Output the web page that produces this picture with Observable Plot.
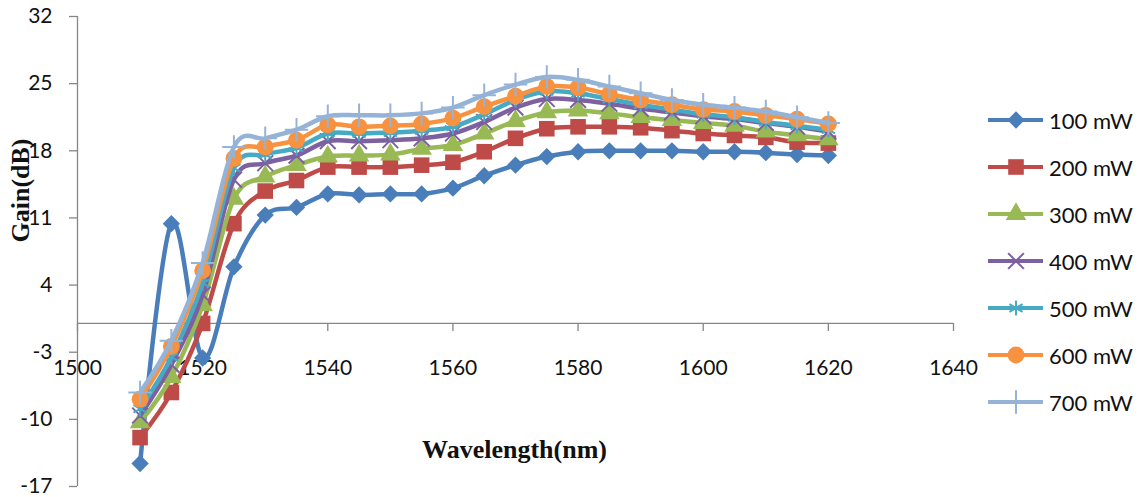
<!DOCTYPE html>
<html>
<head>
<meta charset="utf-8">
<script src="https://cdn.jsdelivr.net/npm/d3@7"></script>
<script src="https://cdn.jsdelivr.net/npm/@observablehq/plot@0.6"></script>
<style>
  body { margin: 0; background: #fff; }
  #wrap { position: relative; width: 1145px; height: 497px; overflow: hidden; }
  #legend { position: absolute; left: 0; top: 0; font-family: Lato, "Open Sans", sans-serif; font-size: 22px; color: #111; }
  .item { position: absolute; display: flex; align-items: center; white-space: nowrap; }
  .item span { margin-left: 5px; }
</style>
</head>
<body>
<div id="wrap"><div id="chart"></div><div id="legend"></div></div>
<script>
// ---- data ----
const wavelengths = [1510,1515,1520,1525,1530,1535,1540,1545,1550,1555,1560,1565,1570,1575,1580,1585,1590,1595,1600,1605,1610,1615,1620];
const seriesNames = ["100 mW","200 mW","300 mW","400 mW","500 mW","600 mW","700 mW"];
const gain100 = [-14.6,10.4,-3.6,5.9,11.3,12.1,13.5,13.4,13.5,13.5,14.1,15.4,16.5,17.4,17.9,18.0,18.0,18.0,17.9,17.9,17.8,17.6,17.5];
const gain200 = [-11.9,-7.2,0.0,10.4,13.8,14.9,16.3,16.3,16.3,16.5,16.8,17.9,19.3,20.3,20.5,20.5,20.4,20.1,19.8,19.6,19.4,18.9,18.8];
const gain300 = [-10.3,-5.6,1.9,13.0,15.3,16.5,17.4,17.5,17.6,18.2,18.6,19.8,21.1,22.0,22.2,21.9,21.5,21.2,20.9,20.6,20.0,19.6,19.2];
const gain400 = [-9.6,-4.3,3.0,15.0,16.7,17.5,19.0,19.0,19.1,19.3,19.8,21.0,22.5,23.4,23.3,22.9,22.4,22.0,21.6,21.3,20.9,20.5,20.0];
const gain500 = [-8.9,-3.5,4.2,16.2,17.6,18.3,19.8,19.8,19.9,20.1,20.5,21.8,23.3,24.2,24.0,23.4,22.8,22.3,21.8,21.5,21.0,20.6,20.2];
const gain600 = [-7.9,-2.4,5.5,17.2,18.4,19.1,20.7,20.5,20.6,20.8,21.4,22.6,23.7,24.7,24.6,23.9,23.3,22.8,22.3,22.1,21.7,21.3,20.8];
const gain700 = [-7.2,-1.8,6.3,18.4,19.3,20.2,21.6,21.7,21.7,21.9,22.5,23.8,24.9,25.7,25.4,24.7,24.0,23.3,22.8,22.5,22.1,21.5,20.9];
const xTicks = [1500,1520,1540,1560,1580,1600,1620,1640];
const yTicks = [-17,-10,-3,4,11,18,25,32];
const colors = ["#4A7EBB","#BE4B48","#98B954","#7D60A0","#46AAC5","#F69240","#95B3D7"];
const symbols = ["diamond2","square","triangle","times","asterisk","circle","plus"];
const symbolFilled = [true,true,true,false,false,true,false];
const symbolR = [7.8,8.8,7.6,7.2,7.2,8.4,7.6];
const xTitle = "Wavelength(nm)";
const yTitle = "Gain(dB)";

const allGains = [gain100,gain200,gain300,gain400,gain500,gain600,gain700];
const axisGray = "#868686";

const marks = [
  Plot.ruleY([0], {stroke: axisGray, strokeWidth: 1.3}),
  Plot.ruleX([1500], {stroke: axisGray, strokeWidth: 1.3}),
  Plot.ruleY(yTicks, {y: d => d, x1: 1500, x2: 1500, insetLeft: -8, stroke: axisGray, strokeWidth: 1.3}),
  Plot.ruleX(xTicks, {x: d => d, y1: 0, y2: 0, insetBottom: -8, stroke: axisGray, strokeWidth: 1.3}),
  Plot.text(yTicks, {y: d => d, x: 1500, dx: -25, textAnchor: "end", text: d => String(d), fontSize: 21, fill: "#111"}),
  Plot.text(xTicks, {x: d => d, y: 0, dy: 45, text: d => String(d), fontSize: 21, fill: "#111"}),
  Plot.text([yTitle], {frameAnchor: "left", dx: -57, dy: -9, rotate: -90, fontFamily: "Liberation Serif", fontWeight: "bold", fontSize: 26, fill: "#111"}),
  Plot.text([xTitle], {frameAnchor: "bottom", dx: -1, dy: -29, fontFamily: "Liberation Serif", fontWeight: "bold", fontSize: 26, fill: "#111"})
];

seriesNames.forEach((name, k) => {
  const rows = wavelengths.map((w, i) => ({wl: w, gain: allGains[k][i]}));
  marks.push(Plot.line(rows, {x: "wl", y: "gain", stroke: colors[k], strokeWidth: 4.5, curve: "cardinal"}));
  if (symbolFilled[k]) {
    marks.push(Plot.dot(rows, {x: "wl", y: "gain", symbol: symbols[k], r: symbolR[k], fill: colors[k], stroke: "none"}));
  } else {
    marks.push(Plot.dot(rows, {x: "wl", y: "gain", symbol: symbols[k], r: symbolR[k], fill: "none", stroke: colors[k], strokeWidth: 2}));
  }
});

const chart = Plot.plot({
  width: 960,
  height: 497,
  marginLeft: 77,
  marginRight: 7,
  marginTop: 16,
  marginBottom: 11,
  style: {fontFamily: "Lato, 'Open Sans', sans-serif", background: "#fff", overflow: "visible"},
  x: {domain: [1500, 1640], axis: null},
  y: {domain: [-17, 32], axis: null},
  marks
});
document.getElementById("chart").appendChild(chart);

// ---- legend (HTML) ----
const symMap = {diamond2: d3.symbolDiamond2, square: d3.symbolSquare, triangle: d3.symbolTriangle, times: d3.symbolTimes, asterisk: d3.symbolAsterisk, circle: d3.symbolCircle, plus: d3.symbolPlus};
const legend = document.getElementById("legend");
seriesNames.forEach((name, k) => {
  const item = document.createElement("div");
  item.className = "item";
  item.style.left = "988px";
  item.style.top = (120 + 47 * k - 14) + "px";
  item.style.height = "28px";
  const svgNS = "http://www.w3.org/2000/svg";
  const svg = document.createElementNS(svgNS, "svg");
  svg.setAttribute("width", 56);
  svg.setAttribute("height", 28);
  const line = document.createElementNS(svgNS, "line");
  line.setAttribute("x1", 0); line.setAttribute("x2", 55);
  line.setAttribute("y1", 14); line.setAttribute("y2", 14);
  line.setAttribute("stroke", colors[k]); line.setAttribute("stroke-width", 4);
  svg.appendChild(line);
  const path = document.createElementNS(svgNS, "path");
  const size = Math.PI * symbolR[k] * symbolR[k];
  path.setAttribute("d", d3.symbol(symMap[symbols[k]], size)());
  path.setAttribute("transform", "translate(28,14)");
  if (symbolFilled[k]) { path.setAttribute("fill", colors[k]); }
  else { path.setAttribute("fill", "none"); path.setAttribute("stroke", colors[k]); path.setAttribute("stroke-width", 2); }
  svg.appendChild(path);
  item.appendChild(svg);
  const span = document.createElement("span");
  span.textContent = name;
  item.appendChild(span);
  legend.appendChild(item);
});
</script>
</body>
</html>
